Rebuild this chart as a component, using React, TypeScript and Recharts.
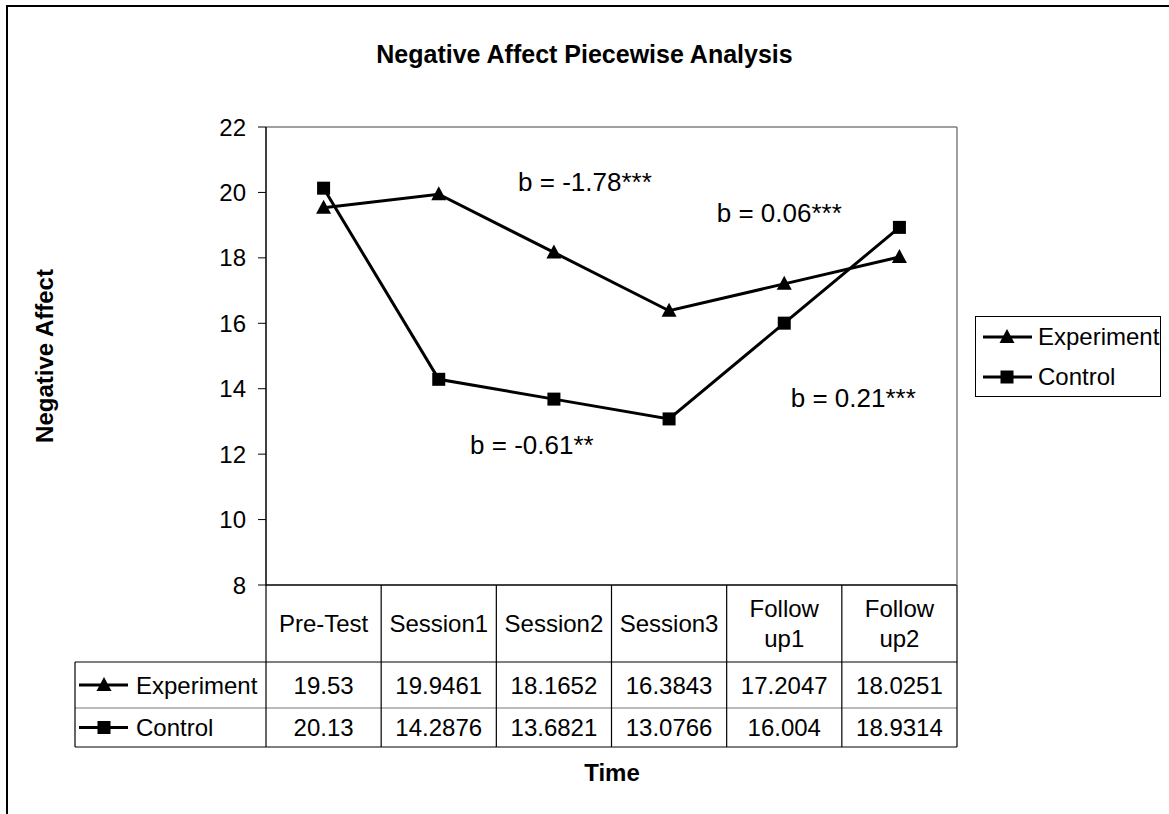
import React from 'react'
import { LineChart, Line, XAxis, YAxis, Legend, ReferenceDot, ReferenceLine } from 'recharts'

const categories = ['Pre-Test', 'Session1', 'Session2', 'Session3', 'Follow up1', 'Follow up2']
const experiment = [19.53, 19.9461, 18.1652, 16.3843, 17.2047, 18.0251]
const control = [20.13, 14.2876, 13.6821, 13.0766, 16.004, 18.9314]
const yTicks = [8, 10, 12, 14, 16, 18, 20, 22]

const slopeNotes = ['b = -1.78***', 'b = 0.06***', 'b = 0.21***', 'b = -0.61**']
const noteAnchors = ['Session2', 'Follow up1', 'Follow up1', 'Session2']
const noteLevels = [20.32, 19.38, 13.72, 12.28]
const noteShift = [31, -5, 69, -22]

const FONT = '"Liberation Sans", Arial, Helvetica, sans-serif'
const W = 1169
const H = 814
const plotLeft = 266
const plotRight = 957
const plotTop = 127
const plotBottom = 585
const band = (plotRight - plotLeft) / categories.length

const series = [
  { key: 'experiment', name: 'Experiment', values: experiment, marker: 'triangle' },
  { key: 'control', name: 'Control', values: control, marker: 'square' },
]

const data = categories.map((c, i) => ({ name: c, experiment: experiment[i], control: control[i] }))

function Marker({ type, cx, cy }: { type: string; cx: number; cy: number }) {
  if (type === 'triangle') {
    return <path d={`M${cx},${cy - 8} L${cx + 7.5},${cy + 6} L${cx - 7.5},${cy + 6} Z`} fill="#000" />
  }
  return <rect x={cx - 6.5} y={cy - 6.5} width={13} height={13} fill="#000" />
}

const renderDot = (type: string) => (p: any) => (
  <Marker key={`${type}-${p.index}`} type={type} cx={p.cx} cy={p.cy} />
)

// rows of the data table under the axis
const rowLines = [662, 708, 747]
const rowCenters = [685, 727.5]
const keyColLeft = 75

function TableTick(props: any) {
  const { x, payload, index } = props
  const top = plotBottom
  const label: string = payload.value
  const parts = label.split(' ')
  const right = x + band / 2
  const headerMid = (top + rowLines[0]) / 2
  return (
    <g>
      {index === 0 && (
        <g>
          <line x1={keyColLeft} x2={plotRight} y1={rowLines[0]} y2={rowLines[0]} stroke="#000" strokeWidth={1.2} />
          <line x1={keyColLeft} x2={plotRight} y1={rowLines[1]} y2={rowLines[1]} stroke="#777" strokeWidth={1} />
          <line x1={keyColLeft} x2={plotRight} y1={rowLines[2]} y2={rowLines[2]} stroke="#000" strokeWidth={1.2} />
          <line x1={keyColLeft} x2={keyColLeft} y1={rowLines[0]} y2={rowLines[2]} stroke="#000" strokeWidth={1.2} />
          <line x1={x - band / 2} x2={x - band / 2} y1={top} y2={rowLines[2]} stroke="#000" strokeWidth={1.2} />
          {series.map((s, i) => (
            <g key={s.key}>
              <line x1={79} x2={128} y1={rowCenters[i]} y2={rowCenters[i]} stroke="#000" strokeWidth={3} />
              <Marker type={s.marker} cx={104} cy={rowCenters[i]} />
              <text x={136} y={rowCenters[i]} dominantBaseline="central" fontSize={24} fontFamily={FONT} fill="#000">
                {s.name}
              </text>
            </g>
          ))}
        </g>
      )}
      {index === categories.length - 1 && (
        <line x1={right} x2={right} y1={plotTop} y2={top} stroke="#808080" strokeWidth={1.5} />
      )}
      <line x1={right} x2={right} y1={top} y2={rowLines[2]} stroke="#000" strokeWidth={1.2} />
      {parts.length === 1 ? (
        <text x={x} y={headerMid} textAnchor="middle" dominantBaseline="central" fontSize={24} fontFamily={FONT} fill="#000">
          {label}
        </text>
      ) : (
        parts.map((t, j) => (
          <text key={t} x={x} y={headerMid - 15 + j * 30} textAnchor="middle" dominantBaseline="central" fontSize={24} fontFamily={FONT} fill="#000">
            {t}
          </text>
        ))
      )}
      {series.map((s, i) => (
        <text key={s.key} x={x} y={rowCenters[i]} textAnchor="middle" dominantBaseline="central" fontSize={24} fontFamily={FONT} fill="#000">
          {String(s.values[index])}
        </text>
      ))}
    </g>
  )
}

function LegendBox() {
  return (
    <div style={{ border: '1px solid #000', width: 186, height: 81, boxSizing: 'border-box', background: '#fff', fontFamily: FONT, fontSize: 24, color: '#000' }}>
      {series.map((s) => (
        <div key={s.key} style={{ display: 'flex', alignItems: 'center', height: 40 }}>
          <svg width={58} height={20} style={{ flex: 'none' }}>
            <line x1={7} x2={56} y1={10} y2={10} stroke="#000" strokeWidth={3} />
            <Marker type={s.marker} cx={31} cy={10} />
          </svg>
          <span style={{ marginLeft: 4, lineHeight: '24px' }}>{s.name}</span>
        </div>
      ))}
    </div>
  )
}

function YTitle() {
  return (
    <text transform={`translate(44,${(plotTop + plotBottom) / 2}) rotate(-90)`} textAnchor="middle" dominantBaseline="central" fontSize={24} fontWeight="bold" fontFamily={FONT} fill="#000">
      Negative Affect
    </text>
  )
}

export default function App() {
  return (
    <div style={{ position: 'absolute', left: 0, top: 0, width: W, height: H, overflow: 'hidden', background: '#fff', fontFamily: FONT }}>
      <div style={{ position: 'absolute', left: 6, top: 5, width: 1300, height: 1000, border: '2px solid #000' }} />
      <div style={{ position: 'absolute', left: 0, top: 38, width: W, textAlign: 'center', fontSize: 25, fontWeight: 'bold', lineHeight: '32px' }}>
        Negative Affect Piecewise Analysis
      </div>
      <div style={{ position: 'absolute', left: 560, top: 758, width: 104, textAlign: 'center', fontSize: 24, fontWeight: 'bold', lineHeight: '30px' }}>
        Time
      </div>
      <LineChart
        width={W}
        height={H}
        data={data}
        margin={{ top: plotTop, right: W - plotRight, bottom: H - plotBottom - 162, left: 0 }}
        style={{ position: 'absolute', left: 0, top: 0 }}
      >
        <XAxis
          dataKey="name"
          height={162}
          interval={0}
          padding={{ left: band / 2, right: band / 2 }}
          tickSize={0}
          tickMargin={0}
          tickLine={false}
          axisLine={{ stroke: '#000', strokeWidth: 1.5 }}
          tick={(p: any) => <TableTick key={p.index} {...p} />}
        />
        <YAxis
          width={plotLeft}
          domain={[8, 22]}
          ticks={yTicks}
          interval={0}
          tickSize={8}
          tickMargin={12}
          tickLine={{ stroke: '#000' }}
          axisLine={{ stroke: '#000', strokeWidth: 1.5 }}
          tick={{ fontSize: 24, fill: '#000', fontFamily: FONT }}
          label={<YTitle />}
        />
        <ReferenceLine y={22} stroke="#808080" strokeWidth={1.5} />
        {series.map((s) => (
          <Line
            key={s.key}
            type="linear"
            dataKey={s.key}
            name={s.name}
            stroke="#000"
            strokeWidth={3}
            dot={renderDot(s.marker)}
            activeDot={false}
            isAnimationActive={false}
          />
        ))}
        {slopeNotes.map((t, i) => (
          <ReferenceDot
            key={t}
            x={noteAnchors[i]}
            y={noteLevels[i]}
            r={0}
            ifOverflow="visible"
            shape={(p: any) => (
              <text x={p.cx + noteShift[i]} y={p.cy} textAnchor="middle" dominantBaseline="central" fontSize={26} fontFamily={FONT} fill="#000">
                {t}
              </text>
            )}
          />
        ))}
        <Legend
          layout="vertical"
          align="center"
          verticalAlign="middle"
          content={<LegendBox />}
          wrapperStyle={{ left: 975, top: 316, width: 186, height: 81 }}
        />
      </LineChart>
    </div>
  )
}
